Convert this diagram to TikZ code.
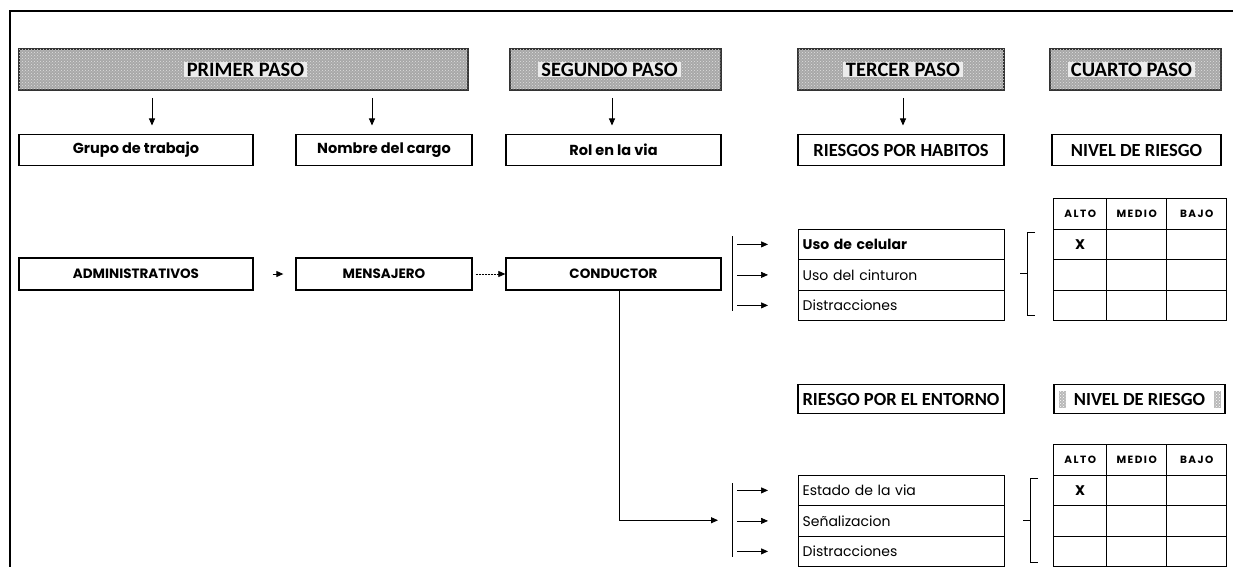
\documentclass[tikz,border=0pt]{standalone}
\usepackage{fontspec}
\setmainfont{Carlito}
\newfontfamily\gothic{Poppins}
\usetikzlibrary{arrows.meta,patterns}
\tikzset{
  box/.style={draw, line width=1.3pt, minimum height=31pt, inner sep=0pt},
  gbold/.style={font=\gothic\bfseries\fontsize{14.5}{16}\selectfont},
  gcaps/.style={font=\gothic\bfseries\fontsize{13.5}{15}\selectfont},
  cbold/.style={font=\bfseries\fontsize{18.5}{20}\selectfont},
  banner/.style={draw=black!80, line width=2pt, minimum height=41pt, inner sep=0pt,
    fill=gray!68, postaction={pattern=crosshatch dots, pattern color=white!75!gray}},
  bannertext/.style={fill=white!85!gray, inner xsep=3pt, inner ysep=1pt,
    font=\bfseries\fontsize{20.5}{22}\selectfont},
  arr/.style={line width=0.9pt, -{Triangle[length=7pt,width=6pt]}},
  thinarr/.style={line width=0.7pt, dash pattern=on 2.5pt off 0.5pt,
    -{Triangle[length=7pt,width=6pt]}},
  listrow/.style={draw, line width=1.3pt, minimum height=30.5pt, text width=198pt,
    align=left, inner xsep=4pt, inner ysep=0pt, font=\gothic\fontsize{14}{16}\selectfont},
  cell/.style={draw, line width=1.4pt, inner sep=0pt, anchor=north west},
  hdr/.style={font=\gothic\bfseries\fontsize{10.5}{12}\selectfont\addfontfeature{LetterSpace=14}},
  xmark/.style={font=\gothic\bfseries\fontsize{14}{16}\selectfont},
  bar/.style={line width=1pt},
  brk/.style={line width=1pt},
  speck/.style={fill=gray!55, inner sep=0pt, minimum width=7pt, minimum height=17pt,
    postaction={pattern=crosshatch dots, pattern color=white}},
}
\begin{document}
\begin{tikzpicture}[x=1pt,y=-1pt]
\useasboundingbox (0,0) rectangle (1233,567);

% outer frame (top and left edges)
\draw[line width=2.5pt] (1233,11) -- (10,11) -- (10,567);

% step banners
\node[banner, minimum width=449pt] (b1) at (243.5,69.5) {};
\node[banner, minimum width=211pt] (b2) at (615.5,69.5) {};
\node[banner, minimum width=206pt] (b3) at (901,69.5) {};
\node[banner, minimum width=171pt] (b4) at (1135.5,69.5) {};
\node[bannertext] (b1t) at ([xshift=2pt]b1.center) {PRIMER PASO};
\node[bannertext] (b2t) at ([xshift=-6pt]b2.center) {SEGUNDO PASO};
\node[bannertext] (b3t) at ([xshift=2pt]b3.center) {TERCER PASO};
\node[bannertext] (b4t) at ([xshift=-4pt]b4.center) {CUARTO PASO};

% first row of boxes
\node[box, gbold, minimum width=234pt] (grupo) at (136,150) {Grupo de trabajo};
\node[box, gbold, minimum width=176pt] (nombre) at (384,150) {Nombre del cargo};
\node[box, gbold, minimum width=215pt] (rol) at (613.5,150) {Rol en la via};
\node[box, cbold, minimum width=206pt] (habitos) at (901,150) {RIESGOS POR HABITOS};
\node[box, cbold, minimum width=169pt] (nivel1) at (1136.5,150) {NIVEL DE RIESGO};

% banner-to-box arrows
\coordinate (d1) at (152,134.5);
\coordinate (d2) at (372,134.5);
\coordinate (d3) at (612,134.5);
\coordinate (d4) at (903,134.5);
\draw[arr, shorten <=7pt, shorten >=9pt] (b1.south -| d1) -- (d1);
\draw[arr, shorten <=7pt, shorten >=9pt] (b1.south -| d2) -- (d2);
\draw[arr, shorten <=7pt, shorten >=9pt] (b2.south -| d3) -- (d3);
\draw[arr, shorten <=7pt, shorten >=9pt] (b3.south -| d4) -- (d4);

% second row of boxes
\node[box, gcaps, minimum width=234pt, minimum height=32pt] (adm) at (136,274) {ADMINISTRATIVOS};
\node[box, gcaps, minimum width=176pt, minimum height=32pt] (men) at (384,274) {MENSAJERO};
\node[box, gcaps, minimum width=215pt, minimum height=32pt] (con) at (613.5,274) {CONDUCTOR};
\draw[arr, shorten <=19pt, shorten >=12pt] (adm.east) -- (men.west);
\draw[thinarr, shorten <=3pt] (men.east) -- (con.west);

% habit risks list
\node[listrow, anchor=north west] (cel) at (798,228.5) {\bfseries Uso de celular};
\node[listrow, anchor=north west] (cin) at (798,259) {Uso del cinturon};
\node[listrow, anchor=north west] (dis) at (798,289.5) {Distracciones};
\coordinate (barA1) at (732,236);
\coordinate (barA2) at (732,311);
\draw[bar] (barA1) -- (barA2);
\foreach \n in {cel,cin,dis}
  \draw[thinarr, shorten <=5pt, shorten >=30pt] (barA1 |- \n.west) -- (\n.west);

% environment risks
\node[box, cbold, minimum width=206pt, minimum height=29pt] (entorno) at (901,399) {RIESGO POR EL ENTORNO};
\node[box, cbold, minimum width=171pt, minimum height=29pt] (nivel2) at (1139.5,399) {NIVEL DE RIESGO};
\node[speck] (sp1) at (1062,399) {};
\node[speck] (sp2) at (1217,399) {};

\node[listrow, anchor=north west] (via) at (798,474.5) {Estado de la via};
\node[listrow, anchor=north west] (sen) at (798,505) {Señalizacion};
\node[listrow, anchor=north west] (dis2) at (798,535.5) {Distracciones};
\coordinate (barB1) at (732,483);
\coordinate (barB2) at (732,557);
\draw[bar] (barB1) -- (barB2);
\foreach \n in {via,sen,dis2}
  \draw[thinarr, shorten <=5pt, shorten >=30pt] (barB1 |- \n.west) -- (\n.west);

% branch from the driver box down to the environment list
\coordinate (cv) at (619,0);
\coordinate (cend) at (718,520.25);
\draw[arr] (con.south -| cv) |- (cend);

% risk level tables
\foreach \tb/\ytop in {A/198,B/444}{
  \foreach \c/\xa/\w in {1/1053/53,2/1106/60,3/1166/60}{
    \foreach \r in {0,1,2,3}{
      \node[cell, minimum width=\w pt, minimum height=30.5pt] (\tb\r\c) at (\xa,\ytop+30.5*\r) {};
    }
  }
  \node[hdr] at (\tb01) {ALTO};
  \node[hdr] at (\tb02) {MEDIO};
  \node[hdr] at (\tb03) {BAJO};
  \node[xmark] at (\tb11) {X};
}

% braces between lists and tables
\coordinate (kA1) at (1035,232);
\coordinate (kA2) at (1035,315);
\coordinate (kAm) at (1020,273.5);
\draw[brk] (kA1) -- ++(-8,0) |- (kA2);
\draw[brk] (kAm) -- ++(7,0);
\coordinate (kB1) at (1038,478);
\coordinate (kB2) at (1038,562);
\coordinate (kBm) at (1023,520);
\draw[brk] (kB1) -- ++(-8,0) |- (kB2);
\draw[brk] (kBm) -- ++(7,0);
\end{tikzpicture}
\end{document}
